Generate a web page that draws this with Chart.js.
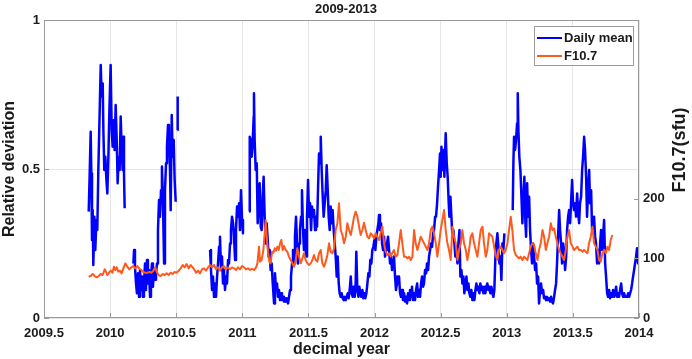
<!DOCTYPE html>
<html><head><meta charset="utf-8">
<script src="https://cdn.jsdelivr.net/npm/chart.js@4.4.0/dist/chart.umd.min.js"></script>
<style>html,body{margin:0;padding:0;background:#fff}#wrap{width:692px;height:359px}</style>
</head><body><div id="wrap"><canvas id="c" width="692" height="359"></canvas></div>
<script>
const chartTitle = '2009-2013';
const xTitle = 'decimal year';
const leftTitle = 'Relative deviation';
const rightTitle = 'F10.7(sfu)';
const seriesNames = ['Daily mean', 'F10.7'];
const xTicks = [2009.5, 2010, 2010.5, 2011, 2011.5, 2012, 2012.5, 2013, 2013.5, 2014];
const leftTicks = [0, 0.5, 1];
const rightTicks = [0, 100, 200];

const blueYears = [
2009.838,2009.845,2009.853,2009.858,2009.863,2009.868,2009.873,2009.881,2009.888,2009.896,2009.903,2009.911,2009.919,2009.929,2009.936,2009.944,2009.949,2009.956,2009.964,2009.972,2009.979,2009.987,2009.994,2010.004,2010.012,2010.019,2010.027,2010.034,2010.042,2010.050,2010.057,2010.065,2010.072,2010.080,2010.087,2010.095,2010.100,2010.105,2010.110,
2010.14,
2010.176,2010.181,2010.188,2010.196,2010.203,2010.211,2010.219,2010.226,2010.234,2010.241,2010.249,2010.256,2010.264,2010.271,2010.279,2010.286,2010.294,2010.302,2010.309,2010.317,2010.324,2010.332,2010.340,2010.347,2010.355,2010.362,2010.370,2010.377,2010.385,2010.392,2010.400,2010.408,2010.415,2010.423,2010.430,2010.438,2010.445,2010.453,2010.458,2010.466,2010.473,2010.481,2010.488,2010.496,
2010.502,
2010.508,2010.511,
2010.6,
2010.756,2010.763,2010.771,2010.778,2010.786,2010.793,2010.801,2010.809,2010.816,2010.824,2010.831,2010.839,2010.846,2010.854,2010.861,2010.869,2010.877,2010.884,2010.892,2010.899,2010.907,2010.914,2010.922,2010.930,2010.937,2010.945,2010.952,2010.960,2010.967,2010.975,2010.982,2010.990,2010.998,2011.005,
2011.03,
2011.051,2011.056,2011.063,2011.071,2011.078,2011.086,2011.088,2011.093,2011.101,2011.109,2011.116,2011.124,2011.131,2011.139,2011.146,2011.154,2011.161,2011.169,2011.177,2011.184,2011.192,2011.199,2011.207,2011.214,2011.222,2011.230,2011.240,2011.247,2011.255,2011.262,2011.270,2011.277,2011.285,2011.293,2011.300,2011.308,2011.315,2011.323,2011.330,2011.338,2011.346,2011.353,2011.361,2011.368,2011.376,2011.383,2011.391,2011.398,2011.406,2011.414,2011.421,2011.429,2011.436,2011.444,2011.451,2011.459,2011.466,
2011.474,2011.482,2011.489,2011.497,2011.505,2011.512,2011.520,2011.527,2011.535,2011.542,2011.550,2011.557,2011.565,2011.573,2011.580,2011.588,2011.593,2011.600,2011.608,2011.615,2011.623,2011.631,2011.638,2011.646,2011.653,2011.661,2011.668,2011.676,2011.683,2011.691,2011.699,2011.706,2011.714,2011.721,2011.729,2011.736,2011.744,2011.751,2011.759,2011.767,2011.774,2011.782,2011.789,2011.797,2011.804,2011.812,2011.820,2011.827,2011.835,2011.842,2011.850,2011.857,2011.862,2011.870,2011.878,2011.885,2011.893,2011.900,2011.908,2011.915,2011.923,2011.930,2011.938,2011.946,2011.953,2011.961,2011.968,2011.976,2011.983,2011.991,2011.999,2012.006,2012.014,2012.021,2012.029,2012.034,2012.041,2012.049,2012.057,2012.064,2012.072,2012.079,2012.087,2012.094,2012.102,2012.110,2012.117,2012.125,2012.132,2012.140,2012.147,2012.155,2012.162,2012.170,2012.177,2012.185,2012.193,2012.200,2012.208,2012.215,2012.223,2012.231,2012.238,2012.246,2012.253,2012.261,2012.268,2012.276,2012.283,2012.291,2012.299,
2012.306,2012.314,2012.322,2012.329,2012.337,2012.344,2012.352,2012.359,2012.367,2012.374,2012.382,2012.390,2012.397,2012.405,2012.412,2012.420,2012.427,2012.435,2012.443,2012.450,2012.458,2012.465,2012.473,2012.480,2012.488,2012.495,2012.500,2012.506,2012.513,2012.521,2012.528,2012.538,2012.546,2012.553,2012.561,2012.566,2012.574,2012.581,2012.589,2012.596,2012.604,2012.611,2012.619,2012.627,2012.634,2012.642,2012.649,2012.657,2012.664,2012.672,2012.679,2012.687,2012.695,2012.702,2012.710,2012.717,2012.725,2012.732,2012.740,2012.747,2012.755,2012.763,2012.770,2012.778,2012.785,2012.793,2012.800,2012.808,2012.816,2012.823,2012.831,2012.838,2012.846,2012.853,2012.861,2012.869,2012.876,2012.884,2012.891,2012.899,2012.906,2012.914,2012.921,2012.929,2012.937,2012.944,2012.952,2012.959,2012.967,2012.974,2012.982,
2013.01,
2013.045,2013.050,2013.055,2013.063,2013.070,2013.078,2013.083,2013.088,2013.095,2013.103,2013.111,2013.118,2013.126,2013.133,2013.141,
2013.146,2013.154,2013.161,2013.169,2013.176,2013.184,2013.191,2013.199,2013.207,2013.214,2013.222,2013.229,2013.237,2013.244,2013.252,2013.259,2013.267,2013.275,2013.282,2013.290,2013.297,2013.305,2013.312,2013.320,2013.328,2013.335,2013.343,2013.350,2013.358,2013.365,2013.373,2013.380,2013.388,2013.396,2013.403,2013.411,2013.418,2013.426,2013.433,2013.441,2013.449,2013.456,2013.464,2013.471,2013.479,2013.486,2013.494,2013.501,2013.509,2013.517,2013.524,2013.532,2013.539,2013.547,2013.554,2013.562,2013.570,2013.577,2013.585,2013.592,2013.600,2013.607,2013.615,2013.623,2013.630,2013.638,2013.645,2013.653,2013.660,2013.668,2013.675,2013.683,2013.691,2013.698,2013.706,2013.713,2013.721,2013.728,2013.736,2013.744,2013.751,2013.759,2013.766,2013.774,2013.781,2013.789,2013.797,2013.804,2013.812,2013.819,2013.827,2013.834,2013.842,2013.849,2013.857,2013.865,2013.872,2013.880,2013.887,2013.895,2013.903,2013.910,2013.918,2013.925,2013.933,2013.940,2013.948,2013.955,2013.963,2013.970,2013.978,2013.985,2013.993,2013.998
];
const blueValues = [
0.357,0.474,0.625,0.485,0.262,0.362,0.178,0.340,0.228,0.329,0.295,0.497,0.653,0.849,0.743,0.787,0.631,0.497,0.541,0.463,0.418,0.541,0.687,0.849,0.631,0.575,0.664,0.564,0.715,0.597,0.452,0.541,0.497,0.676,0.575,0.497,0.608,0.485,0.368,
null,
0.183,0.228,0.172,0.116,0.083,0.150,0.071,0.161,0.094,0.139,0.071,0.116,0.183,0.094,0.195,0.116,0.161,0.071,0.139,0.183,0.105,0.161,0.128,0.150,0.183,0.295,0.396,0.340,0.429,0.508,0.385,0.183,0.429,0.519,0.575,0.648,0.597,0.497,0.362,0.681,0.541,0.597,0.463,0.390,
null,
0.631,0.743,
null,
0.228,0.161,0.094,0.139,0.071,0.116,0.071,0.139,0.183,0.239,0.273,0.161,0.206,0.116,0.161,0.094,0.139,0.116,0.195,0.183,0.250,0.295,0.340,0.318,0.273,0.195,0.295,0.374,0.340,0.385,0.295,0.429,0.329,0.284,
null,
0.357,0.608,0.597,0.541,0.586,0.676,0.754,0.597,0.497,0.519,0.318,0.407,0.452,0.306,0.295,0.407,0.474,0.340,0.250,0.318,0.262,0.206,0.228,0.161,0.183,0.116,0.049,0.150,0.094,0.116,0.071,0.094,0.060,0.083,0.060,0.071,0.055,0.066,0.055,0.066,0.049,0.071,0.094,0.139,0.183,0.228,0.183,0.273,0.340,0.250,0.183,0.250,0.295,0.340,0.429,0.295,0.228,
0.295,0.206,0.340,0.463,0.340,0.385,0.295,0.374,0.340,0.362,0.295,0.340,0.306,0.441,0.552,0.519,0.608,0.497,0.407,0.340,0.385,0.429,0.513,0.429,0.340,0.295,0.374,0.318,0.362,0.295,0.250,0.206,0.139,0.206,0.116,0.083,0.071,0.083,0.066,0.060,0.071,0.060,0.071,0.083,0.066,0.094,0.139,0.083,0.071,0.105,0.071,0.116,0.222,0.094,0.071,0.105,0.083,0.071,0.094,0.066,0.083,0.066,0.083,0.116,0.150,0.139,0.195,0.183,0.228,0.239,0.262,0.228,0.273,0.295,0.318,0.346,0.295,0.318,0.250,0.228,0.273,0.206,0.228,0.250,0.273,0.228,0.183,0.206,0.161,0.195,0.206,0.139,0.094,0.116,0.139,0.139,0.083,0.071,0.094,0.060,0.083,0.055,0.071,0.049,0.083,0.060,0.094,0.071,0.105,0.060,0.083,
0.060,0.094,0.116,0.071,0.094,0.071,0.116,0.139,0.105,0.116,0.161,0.150,0.183,0.161,0.206,0.228,0.250,0.239,0.284,0.295,0.340,0.340,0.385,0.441,0.497,0.552,0.474,0.575,0.497,0.564,0.474,0.620,0.519,0.474,0.385,0.340,0.407,0.340,0.273,0.295,0.250,0.206,0.228,0.183,0.250,0.295,0.139,0.161,0.116,0.139,0.083,0.116,0.139,0.094,0.116,0.083,0.071,0.094,0.060,0.083,0.060,0.094,0.116,0.094,0.105,0.083,0.116,0.094,0.105,0.083,0.105,0.083,0.105,0.116,0.094,0.105,0.083,0.105,0.083,0.071,0.094,0.206,0.250,0.284,0.239,0.183,0.206,0.128,0.250,0.228,0.284,
null,
0.362,0.519,0.608,0.564,0.597,0.653,0.754,0.631,0.541,0.497,0.407,0.318,0.407,0.474,0.318,
0.273,0.452,0.340,0.407,0.295,0.228,0.183,0.250,0.206,0.161,0.183,0.116,0.139,0.049,0.094,0.116,0.083,0.094,0.066,0.071,0.060,0.071,0.060,0.066,0.055,0.071,0.055,0.049,0.071,0.094,0.116,0.183,0.273,0.362,0.295,0.250,0.183,0.250,0.228,0.161,0.206,0.295,0.340,0.362,0.318,0.385,0.463,0.385,0.362,0.385,0.340,0.418,0.362,0.318,0.385,0.407,0.497,0.541,0.608,0.564,0.474,0.340,0.429,0.497,0.385,0.429,0.295,0.318,0.340,0.273,0.250,0.183,0.228,0.183,0.250,0.295,0.228,0.273,0.329,0.183,0.139,0.083,0.071,0.094,0.066,0.083,0.071,0.094,0.071,0.083,0.105,0.071,0.083,0.071,0.094,0.116,0.083,0.071,0.083,0.071,0.071,0.071,0.083,0.071,0.083,0.094,0.116,0.139,0.161,0.183,0.206,0.234,0.183,0.206
];

const f107Years = [
2009.838,2009.853,2009.868,2009.883,2009.898,2009.914,2009.929,2009.944,2009.959,2009.969,2009.979,2009.992,2010.004,2010.017,2010.029,2010.039,2010.050,2010.062,2010.075,2010.087,2010.100,2010.115,2010.130,2010.145,2010.161,2010.176,2010.191,2010.206,2010.221,2010.236,2010.251,2010.266,2010.282,2010.297,2010.312,2010.327,2010.342,2010.352,2010.367,2010.382,2010.398,2010.413,2010.428,2010.443,2010.458,2010.473,2010.488,2010.503,2010.519,2010.534,2010.549,2010.564,2010.579,2010.594,2010.609,2010.624,2010.640,
2010.650,2010.665,2010.680,2010.695,2010.710,2010.725,2010.741,2010.756,2010.771,2010.786,2010.801,2010.816,2010.831,2010.846,2010.861,2010.877,2010.892,2010.907,2010.922,2010.937,2010.952,2010.967,2010.982,2010.998,2011.013,2011.028,2011.043,2011.058,2011.073,2011.088,2011.104,2011.114,2011.126,2011.134,2011.146,2011.159,2011.169,2011.177,2011.184,2011.194,2011.204,2011.214,2011.225,2011.235,2011.245,2011.255,2011.265,2011.275,2011.285,2011.295,2011.305,2011.315,2011.328,2011.340,2011.353,2011.366,2011.378,2011.391,2011.404,2011.416,2011.429,2011.441,2011.454,2011.466,
2011.479,2011.492,2011.505,2011.517,2011.530,2011.542,2011.555,2011.567,2011.580,2011.593,2011.605,2011.618,2011.631,2011.643,2011.656,2011.668,2011.681,2011.694,2011.706,2011.719,2011.731,2011.744,2011.757,2011.769,2011.782,2011.794,2011.807,2011.820,2011.832,2011.845,2011.857,2011.870,2011.883,2011.895,2011.908,2011.920,2011.933,2011.946,2011.958,2011.971,2011.983,2011.996,2012.009,2012.021,2012.034,2012.046,2012.059,2012.072,2012.084,2012.097,2012.110,2012.122,2012.135,2012.147,2012.160,2012.173,2012.185,2012.198,2012.210,2012.223,2012.236,2012.248,2012.261,2012.273,2012.286,2012.299,
2012.311,2012.324,2012.337,2012.349,2012.362,2012.374,2012.387,2012.400,2012.412,2012.425,2012.437,2012.450,2012.463,2012.475,2012.488,2012.500,2012.513,2012.526,2012.538,2012.551,2012.563,2012.576,2012.589,2012.601,2012.614,2012.627,2012.639,2012.652,2012.664,2012.677,2012.690,2012.702,2012.715,2012.727,2012.740,2012.753,2012.765,2012.778,2012.790,2012.803,2012.816,2012.828,2012.841,2012.853,2012.866,2012.879,2012.891,2012.904,2012.916,2012.929,2012.941,2012.954,2012.967,2012.979,2012.992,2013.005,2013.017,2013.030,2013.042,2013.055,2013.068,2013.080,2013.093,2013.105,2013.118,2013.131,
2013.144,2013.156,2013.169,2013.181,2013.194,2013.207,2013.219,2013.232,2013.244,2013.257,2013.270,2013.282,2013.295,2013.307,2013.320,2013.333,2013.345,2013.358,2013.370,2013.383,2013.396,2013.408,2013.421,2013.433,2013.446,2013.459,2013.471,2013.484,2013.497,2013.509,2013.522,2013.534,2013.547,2013.560,2013.572,2013.585,2013.597,2013.610,2013.622,2013.635,2013.648,2013.660,2013.673,2013.686,2013.698,2013.711,2013.723,2013.736,2013.749,2013.761,2013.774,2013.786,2013.799
];
const f107Values = [
69.3,70.4,73.8,70.4,68.2,70.4,73.8,72.1,81.6,77.7,72.1,76.0,79.4,76.0,86.1,80.5,85.0,77.7,79.4,74.9,83.3,91.7,86.1,81.6,85.0,87.2,83.3,87.2,82.7,80.5,77.1,76.0,76.0,77.1,76.0,79.4,85.0,77.7,72.1,70.4,73.8,72.1,74.9,72.1,76.0,73.8,77.1,76.0,79.4,83.3,88.9,85.0,90.6,83.3,88.9,85.0,80.5,
76.0,79.4,74.9,81.6,83.3,79.4,85.0,88.9,85.0,88.9,81.6,85.0,79.4,85.0,87.2,81.6,85.0,81.6,85.0,83.3,80.5,85.0,81.6,87.2,85.0,81.6,83.3,80.5,82.7,80.5,85.0,91.7,119.7,94.5,97.3,114.1,142.0,164.4,136.4,111.3,94.5,91.7,111.3,109.6,116.9,113.0,119.7,114.1,125.3,130.8,114.1,120.8,114.1,111.3,102.9,97.3,91.7,86.1,97.3,116.9,102.9,91.7,100.1,108.5,
97.3,91.7,88.9,91.7,97.3,105.7,97.3,94.5,108.5,114.1,91.7,86.1,94.5,105.7,125.3,111.3,108.5,116.9,147.6,158.8,192.4,147.6,139.2,125.3,136.4,158.8,147.6,139.2,153.2,170.0,178.4,170.0,153.2,139.2,147.6,159.9,147.6,136.4,133.6,142.0,139.2,133.6,142.0,136.4,130.8,142.0,153.2,125.3,111.3,105.7,108.5,102.9,109.6,114.1,102.9,105.7,125.3,147.6,125.3,102.9,102.9,100.1,102.9,97.3,102.9,147.6,
125.3,114.1,125.3,136.4,130.8,125.3,119.7,114.1,125.3,147.6,153.2,142.0,125.3,102.9,125.3,147.6,164.4,181.2,147.6,125.3,114.1,97.3,153.2,136.4,125.3,97.3,114.1,125.3,147.6,125.3,114.1,97.3,114.1,136.4,142.0,125.3,114.1,102.9,125.3,147.6,153.2,125.3,102.9,114.1,142.0,139.2,136.4,119.7,105.7,97.3,114.1,119.7,114.1,108.5,114.1,125.3,147.6,170.0,147.6,114.1,105.7,102.9,100.1,102.9,97.3,102.9,
100.1,97.3,108.5,119.7,125.3,122.5,108.5,97.3,114.1,125.3,147.6,136.4,114.1,125.3,136.4,158.8,147.6,150.4,136.4,125.3,114.1,108.5,102.9,97.3,114.1,136.4,147.6,125.3,119.7,114.1,116.9,119.7,114.1,114.1,111.3,114.1,111.3,108.5,125.3,136.4,153.2,125.3,119.7,114.1,97.3,94.5,108.5,114.1,108.5,119.7,114.1,130.8,139.2
];

const FONT = 'Liberation Sans, Arial, Helvetica, sans-serif';
const TXT = '#1a1a1a';
const AXIS = '#9a9a9a';
const GRID = '#e6e6e6';
const BLUE = '#0000ff';
const ORANGE = '#ff5a1e';

const decor = {
  id: 'decor',
  afterDraw(chart) {
    const {ctx, chartArea: a, scales} = chart;
    ctx.save();
    ctx.strokeStyle = AXIS; ctx.lineWidth = 1;
    ctx.beginPath();
    scales.x.ticks.forEach(t => {
      const px = Math.round(scales.x.getPixelForValue(t.value)) + 0.5;
      ctx.moveTo(px, a.bottom); ctx.lineTo(px, a.bottom - 5);
    });
    scales.y.ticks.forEach(t => {
      const py = Math.round(scales.y.getPixelForValue(t.value)) + 0.5;
      ctx.moveTo(a.left, py); ctx.lineTo(a.left + 5, py);
    });
    scales.y2.ticks.forEach(t => {
      const py = Math.round(scales.y2.getPixelForValue(t.value)) + 0.5;
      ctx.moveTo(a.right, py); ctx.lineTo(a.right - 5, py);
    });
    ctx.stroke();
    ctx.strokeRect(Math.round(a.left) + 0.5, Math.round(a.top) + 0.5, Math.round(a.right - a.left) - 1, Math.round(a.bottom - a.top) - 1);

    // right axis title (reads bottom to top)
    ctx.save();
    ctx.translate(680, 150);
    ctx.rotate(-Math.PI / 2);
    ctx.fillStyle = TXT;
    ctx.font = 'bold 18px ' + FONT;
    ctx.textAlign = 'center'; ctx.textBaseline = 'middle';
    ctx.fillText(rightTitle, 0, 0);
    ctx.restore();

    // legend box
    const bx = 534, by = 26, bw = 99, bh = 39;
    ctx.fillStyle = '#ffffff';
    ctx.fillRect(bx, by, bw, bh);
    ctx.strokeStyle = AXIS;
    ctx.strokeRect(bx + 0.5, by + 0.5, bw, bh);
    ctx.font = 'bold 13px ' + FONT;
    ctx.textAlign = 'left'; ctx.textBaseline = 'middle';
    chart.data.datasets.forEach((ds, i) => {
      const ly = 38 + i * 18;
      ctx.strokeStyle = ds.borderColor; ctx.lineWidth = 2;
      ctx.beginPath(); ctx.moveTo(537, ly); ctx.lineTo(562, ly); ctx.stroke();
      ctx.fillStyle = TXT;
      ctx.fillText(ds.label, 564, ly);
    });
    ctx.restore();
  }
};

new Chart(document.getElementById('c'), {
  type: 'line',
  data: {
    datasets: [
      { label: seriesNames[0], yAxisID: 'y', order: 2,
        data: blueYears.map((x, i) => ({x, y: blueValues[i]})),
        borderColor: BLUE, borderWidth: 2.5, pointRadius: 0, tension: 0, spanGaps: false,
        borderJoinStyle: 'round' },
      { label: seriesNames[1], yAxisID: 'y2', order: 1,
        data: f107Years.map((x, i) => ({x, y: f107Values[i]})),
        borderColor: ORANGE, borderWidth: 2, pointRadius: 0, tension: 0,
        borderJoinStyle: 'round' }
    ]
  },
  options: {
    responsive: false, animation: false, devicePixelRatio: 1,
    layout: { padding: 0 },
    plugins: {
      legend: { display: false },
      tooltip: { enabled: false },
      title: { display: true, text: chartTitle, color: TXT,
        font: { family: FONT, size: 13, weight: 'bold' }, padding: { top: 2, bottom: 2.4 } }
    },
    scales: {
      x: {
        type: 'linear', min: 2009.5, max: 2014,
        afterFit(s) { s.height = 41; },
        afterBuildTicks(s) { s.ticks = xTicks.map(v => ({value: v})); },
        grid: { color: GRID, drawTicks: false },
        border: { display: false },
        ticks: { color: TXT, font: { family: FONT, size: 13, weight: 'bold' }, padding: 8,
          autoSkip: false, maxRotation: 0, callback: v => String(Math.round(v * 10) / 10) },
        title: { display: true, text: xTitle, color: TXT, font: { family: FONT, size: 16, weight: 'bold' },
          padding: { top: 0, bottom: 0 } }
      },
      y: {
        position: 'left', min: 0, max: 1,
        afterFit(s) { s.width = 44; },
        afterBuildTicks(s) { s.ticks = leftTicks.map(v => ({value: v})); },
        grid: { color: GRID, drawTicks: false },
        border: { display: false },
        ticks: { color: TXT, font: { family: FONT, size: 13, weight: 'bold' }, padding: 4,
          callback: v => String(v) },
        title: { display: true, text: leftTitle, color: TXT, font: { family: FONT, size: 16, weight: 'bold' },
          padding: { top: 0, bottom: 0 } }
      },
      y2: {
        position: 'right', min: 0, max: 500,
        afterFit(s) { s.width = 53; },
        afterBuildTicks(s) { s.ticks = rightTicks.map(v => ({value: v})); },
        grid: { drawOnChartArea: false, drawTicks: false },
        border: { display: false },
        ticks: { color: TXT, font: { family: FONT, size: 13, weight: 'bold' }, padding: 4,
          callback: v => String(v) }
      }
    }
  },
  plugins: [decor]
});
</script>
</body></html>
